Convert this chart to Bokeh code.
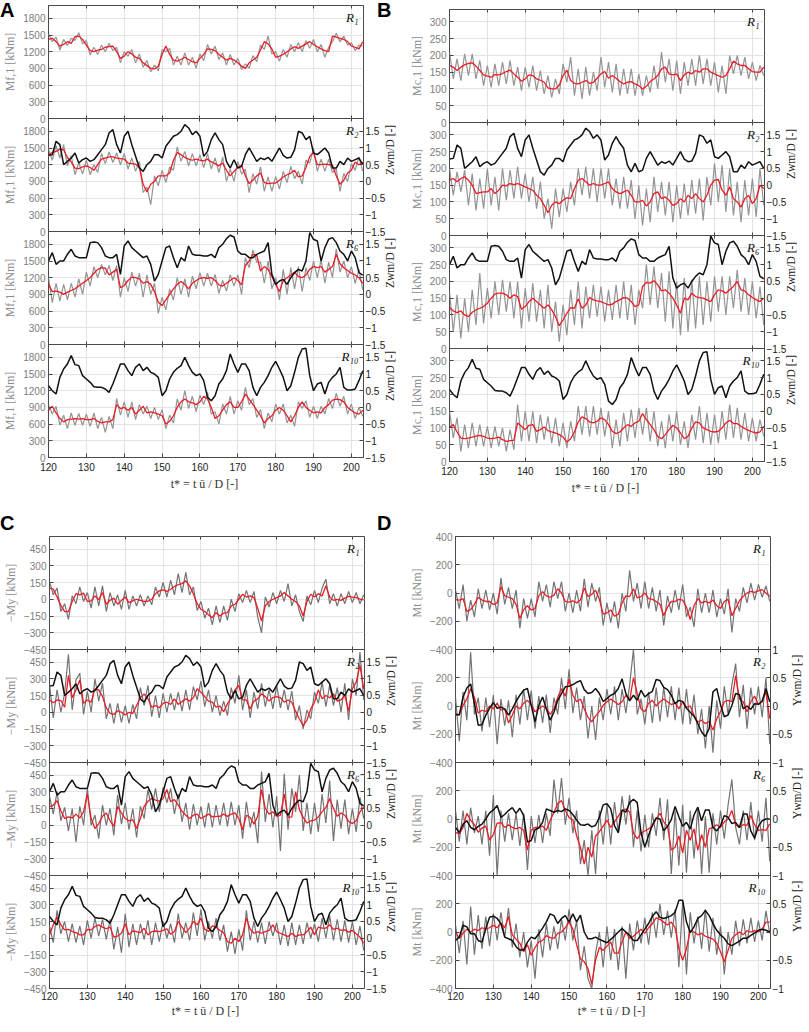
import math
from bokeh.plotting import figure
from bokeh.models import Range1d, LinearAxis, FixedTicker, Label, Div
from bokeh.layouts import column, row
from bokeh.embed import file_html
from bokeh.resources import INLINE

# time axis t* (samples at integer t*)
T = list(range(120, 204))
X_TICKS = [120, 130, 140, 150, 160, 170, 180, 190, 200]

# ---------------- Panel A : M_f,1 [kNm] ----------------
A_R1_RED = [
1420, 1440, 1380, 1300, 1330, 1380, 1350, 1470, 1480, 1420,
1320, 1220, 1200, 1230, 1240, 1280, 1290, 1300, 1200, 1080,
1120, 1200, 1160, 1100, 1080, 1000, 950, 900, 890, 940,
1150, 1300, 1150, 1050, 1030, 1060, 1100, 1060, 1020, 1000,
1080, 1150, 1250, 1240, 1220, 1150, 1100, 1050, 1080, 1050,
1000, 940, 900, 1000, 1050, 1100, 1230, 1380, 1340, 1250,
1100, 1120, 1150, 1200, 1250, 1290, 1260, 1300, 1340, 1380,
1330, 1290, 1250, 1220, 1200, 1480, 1460, 1440, 1420, 1380,
1300, 1280, 1250, 1380]
A_R1_GRAY = [
1520, 1380, 1460, 1230, 1420, 1310, 1440, 1400, 1540, 1340,
1400, 1140, 1280, 1150, 1320, 1200, 1350, 1220, 1280, 1000,
1200, 1120, 1240, 1000, 1160, 920, 1040, 840, 960, 860,
1240, 1200, 1260, 960, 1120, 960, 1180, 960, 1100, 900,
1160, 1040, 1330, 1160, 1300, 1060, 1180, 960, 1150, 960,
1080, 880, 980, 900, 1130, 1020, 1320, 1240, 1480, 1160,
1200, 1030, 1240, 1100, 1330, 1200, 1360, 1200, 1400, 1260,
1420, 1200, 1330, 1100, 1280, 1380, 1530, 1380, 1480, 1320,
1360, 1220, 1320, 1300]
A_R2_RED = [
1380, 1420, 1440, 1480, 1470, 1330, 1250, 1140, 1130, 1160,
1180, 1150, 1100, 1200, 1300, 1320, 1340, 1340, 1320, 1310,
1300, 1230, 1220, 1210, 1150, 850, 710, 850, 900, 1000,
1000, 1000, 1050, 1280, 1420, 1380, 1330, 1300, 1280, 1300,
1280, 1270, 1300, 1250, 1220, 1180, 1230, 1100, 1000, 1080,
1150, 1190, 1000, 860, 920, 1000, 1050, 880, 860, 870,
870, 920, 980, 1020, 1050, 1100, 980, 1000, 1150, 1350,
1420, 1200, 1200, 1210, 1200, 1190, 1000, 850, 920, 1050,
1100, 1250, 1200, 1250]
A_R2_GRAY = [
1480, 1280, 1540, 1320, 1560, 1180, 1360, 1020, 1240, 1030,
1280, 1020, 1200, 1060, 1400, 1220, 1430, 1240, 1410, 1200,
1400, 1120, 1320, 1080, 1260, 700, 800, 480, 1000, 820,
1100, 880, 1160, 1100, 1520, 1260, 1440, 1180, 1400, 1180,
1380, 1150, 1400, 1120, 1320, 1060, 1340, 900, 1120, 900,
1260, 1030, 1120, 700, 1040, 850, 1160, 720, 980, 720,
990, 760, 1080, 880, 1170, 950, 1080, 850, 1280, 1230,
1500, 1080, 1300, 1080, 1300, 1060, 1120, 720, 1040, 900,
1220, 1100, 1340, 1080]
A_R6_RED = [
1080, 950, 960, 940, 900, 940, 970, 1000, 1050, 1100,
1150, 1200, 1280, 1350, 1380, 1370, 1250, 1300, 1350, 1020,
1060, 1150, 1210, 1200, 1180, 1100, 1130, 1080, 950, 760,
700, 800, 900, 1000, 1080, 1130, 1080, 1000, 1100, 1150,
1190, 1200, 1190, 1200, 1150, 1070, 1050, 1100, 1150, 1200,
1150, 1070, 1420, 1500, 1620, 1600, 1320, 1400, 1350, 1220,
1080, 950, 1150, 1200, 1250, 1300, 1220, 1200, 1250, 1350,
1400, 1380, 1400, 1300, 1350, 1400, 1620, 1450, 1380, 1330,
1280, 1250, 1200, 1100]
A_R6_GRAY = [
1200, 750, 1100, 780, 1080, 800, 1100, 850, 1180, 900,
1300, 1050, 1400, 1200, 1440, 1250, 1420, 1150, 1420, 850,
1200, 950, 1300, 1050, 1280, 850, 1250, 900, 1100, 560,
850, 620, 1000, 800, 1200, 900, 1180, 850, 1230, 1000,
1290, 1050, 1280, 1050, 1260, 920, 1150, 960, 1250, 1050,
1250, 900, 1560, 1380, 1700, 1480, 1480, 1100, 1500, 1000,
1200, 800, 1350, 900, 1380, 1000, 1400, 950, 1380, 1150,
1500, 1200, 1520, 1100, 1480, 1200, 1720, 1300, 1500, 1200,
1400, 1100, 1350, 980]
A_R10_RED = [
850, 920, 800, 700, 640, 680, 690, 700, 690, 700,
680, 680, 700, 650, 620, 640, 640, 680, 950, 880,
900, 850, 900, 780, 850, 920, 800, 820, 800, 780,
750, 600, 650, 750, 900, 1000, 1050, 1000, 980, 950,
1000, 1100, 1050, 900, 700, 750, 850, 950, 1000, 900,
900, 1000, 1140, 1050, 950, 850, 750, 620, 700, 750,
850, 900, 850, 750, 640, 750, 900, 1000, 900, 850,
800, 820, 800, 900, 950, 1030, 1050, 1040, 1000, 900,
850, 800, 780, 850]
A_R10_GRAY = [
950, 780, 920, 580, 760, 520, 800, 580, 790, 580,
780, 560, 800, 520, 720, 450, 740, 520, 1060, 760,
1000, 720, 1000, 680, 950, 780, 920, 700, 900, 680,
860, 520, 760, 620, 1050, 850, 1200, 880, 1100, 820,
1120, 950, 1180, 780, 820, 600, 960, 780, 1100, 780,
1020, 850, 1260, 950, 1060, 720, 860, 520, 800, 640,
960, 780, 960, 620, 760, 560, 1000, 880, 1020, 720,
920, 700, 920, 780, 1060, 880, 1150, 920, 1100, 780,
960, 700, 900, 740]

# ---------------- Panel B : M_c,1 [kNm] ----------------
B_R1_RED = [
170, 165, 155, 165, 172, 176, 178, 168, 155, 142,
138, 135, 143, 142, 146, 152, 156, 145, 135, 123,
130, 142, 140, 130, 126, 120, 103, 100, 100, 112,
140, 156, 125, 117, 115, 120, 125, 117, 120, 132,
145, 152, 132, 140, 132, 122, 115, 120, 122, 115,
110, 100, 108, 122, 130, 140, 160, 165, 145, 142,
145, 125, 142, 150, 145, 155, 150, 160, 160, 150,
145, 140, 135, 140, 160, 183, 175, 170, 170, 160,
152, 150, 150, 165]
B_R1_GRAY = [
210, 130, 190, 125, 205, 140, 205, 130, 185, 110,
170, 105, 175, 110, 180, 115, 185, 110, 165, 95,
165, 105, 170, 95, 155, 85, 140, 75, 130, 85,
175, 120, 195, 80, 160, 70, 165, 80, 150, 95,
195, 105, 180, 90, 175, 80, 160, 85, 160, 80,
145, 80, 140, 90, 170, 100, 210, 120, 190, 95,
185, 85, 180, 110, 190, 110, 200, 115, 190, 110,
180, 90, 170, 85, 200, 145, 200, 140, 195, 130,
180, 125, 170, 140]
B_R2_RED = [
165, 170, 160, 170, 175, 165, 150, 125, 128, 130,
130, 140, 125, 135, 150, 148, 155, 152, 155, 150,
145, 140, 135, 120, 110, 90, 68, 90, 100, 95,
105, 113, 110, 140, 165, 170, 160, 150, 155, 150,
150, 155, 160, 140, 130, 125, 130, 135, 120, 100,
100, 105, 88, 100, 125, 130, 110, 115, 105, 90,
95, 110, 100, 120, 110, 125, 110, 100, 120, 150,
165, 167, 135, 120, 145, 110, 100, 85, 110, 120,
95, 110, 150, 140]
B_R2_GRAY = [
200, 120, 190, 130, 195, 90, 185, 75, 170, 80,
200, 90, 175, 75, 200, 105, 195, 110, 205, 110,
185, 100, 175, 80, 160, 50, 110, 20, 140, 55,
140, 70, 160, 90, 200, 120, 205, 110, 200, 100,
200, 110, 200, 90, 170, 80, 175, 80, 165, 50,
150, 30, 140, 40, 175, 70, 160, 60, 160, 40,
150, 50, 155, 60, 165, 65, 170, 45, 175, 90,
215, 100, 210, 70, 200, 60, 160, 40, 165, 60,
170, 55, 200, 90]
B_R6_RED = [
122, 112, 107, 112, 100, 95, 108, 115, 120, 125,
135, 150, 162, 165, 165, 160, 150, 160, 155, 117,
125, 140, 150, 140, 130, 120, 130, 115, 95, 68,
85, 105, 122, 120, 148, 120, 130, 152, 145, 142,
140, 135, 130, 132, 140, 145, 152, 150, 140, 125,
130, 185, 197, 195, 202, 190, 172, 175, 165, 150,
130, 105, 150, 145, 165, 155, 152, 150, 145, 140,
160, 175, 172, 165, 175, 185, 200, 175, 172, 160,
152, 145, 140, 150]
B_R6_GRAY = [
170, 50, 160, 30, 150, 50, 175, 70, 225, 75,
180, 90, 200, 100, 205, 110, 200, 90, 200, 60,
180, 80, 195, 80, 175, 60, 190, 50, 140, 20,
130, 40, 175, 70, 200, 60, 185, 90, 190, 95,
185, 80, 175, 85, 190, 90, 200, 85, 190, 70,
175, 120, 250, 130, 245, 120, 225, 80, 230, 60,
200, 40, 210, 50, 205, 60, 215, 70, 200, 80,
215, 110, 215, 100, 215, 120, 235, 110, 210, 100,
200, 90, 185, 70]
B_R10_RED = [
103, 110, 88, 70, 68, 70, 73, 76, 78, 75,
70, 68, 70, 73, 65, 60, 62, 63, 115, 105,
95, 108, 110, 90, 95, 103, 92, 88, 85, 80,
73, 58, 68, 88, 118, 133, 128, 118, 115, 120,
130, 125, 110, 90, 83, 88, 100, 110, 105, 115,
120, 143, 125, 110, 95, 75, 68, 80, 95, 108,
100, 85, 68, 75, 100, 118, 115, 100, 95, 90,
88, 90, 100, 115, 123, 113, 113, 105, 98, 93,
88, 85, 88, 105]
B_R10_GRAY = [
150, 70, 130, 30, 110, 40, 115, 45, 110, 45,
105, 40, 105, 45, 100, 30, 95, 35, 170, 60,
150, 60, 150, 55, 140, 65, 135, 55, 130, 45,
115, 40, 120, 60, 165, 80, 165, 75, 165, 80,
160, 75, 150, 40, 125, 45, 145, 60, 155, 70,
160, 80, 160, 60, 150, 45, 120, 40, 140, 60,
150, 50, 120, 40, 140, 65, 165, 55, 145, 50,
140, 55, 150, 65, 170, 70, 160, 65, 145, 60,
130, 60, 125, 75]

# ---------------- Panel C : -M_y [kNm] ----------------
C_R1_RED = [
100, 90, 20, -55, -110, -110, -20, 50, 40, 55,
-20, -15, 30, -5, 60, -45, -10, 10, -45, -10,
20, -30, -15, 0, -10, -20, -18, 0, 50, 75,
84, 70, 90, 115, 130, 140, 165, 120, 50, -40,
-90, -110, -140, -165, -120, -150, -125, -120, -60, -45,
0, 45, 20, 30, 15, -80, -195, -60, -20, 0,
15, 30, 60, 30, 0, -20, -60, -150, -20, 45,
20, 50, 30, 120, 20, -10, 0, -10, 10, 25,
20, 15, 0, -5]
C_R1_GRAY = [
160, 40, 100, -110, -40, -180, 30, -40, 110, -20,
60, -80, 110, -60, 120, -110, 60, -60, 40, -90,
80, -90, 30, -60, 40, -60, 30, -50, 110, 20,
150, 20, 170, 40, 230, 60, 240, 40, 110, -100,
-20, -170, -80, -230, -60, -210, -60, -190, 0, -110,
50, -30, 80, -30, 70, -160, -300, 20, -70, 60,
-40, 80, -20, 140, -60, 40, -110, -200, 30, -50,
80, -30, 100, 180, -40, 50, -60, 50, -40, 70,
-30, 60, -40, 40]
C_R2_RED = [
110, 85, 110, 105, 45, 330, 130, 200, 290, 80,
110, 90, 210, 200, 140, 40, -10, -20, 15, 0,
-25, 0, -10, 60, 130, 165, 120, 45, 60, 40,
80, 90, 70, 120, 70, 95, 120, 100, 130, 210,
180, 140, 100, 90, 45, 55, 5, 75, 130, 200,
240, 110, 110, 30, 100, 120, 165, 140, 100, 130,
140, 130, 90, 110, 90, 10, -60, -120, -70, 30,
90, 200, 120, 150, 130, 165, 100, 110, 150, 10,
210, 270, 420, 210]
C_R2_GRAY = [
250, -50, 200, 0, 170, 520, 20, 290, 350, -20,
190, 0, 300, 100, 260, -60, 80, -100, 80, -90,
60, -100, 70, -60, 220, 60, 240, -40, 150, -50,
170, 0, 170, 20, 180, 10, 200, 20, 230, 110,
280, 50, 200, 0, 150, -30, 100, -30, 220, 80,
330, 20, 200, -50, 180, 30, 260, 50, 200, 30,
240, 40, 200, 20, 190, -70, 60, -150, 20, -60,
180, 80, 270, 50, 240, 60, 220, 0, 260, -70,
300, 150, 540, 110]
C_R6_RED = [
165, 180, 220, 130, 60, 75, 65, 100, 65, 120,
280, 60, -30, 15, 80, 110, 40, -10, 170, 110,
60, 40, 50, -30, 60, 170, 215, 240, 225, 215,
240, 320, 210, 230, 180, 125, 90, 60, 90, 100,
60, 80, 100, 75, 80, 80, 100, 80, 100, 110,
60, -40, 90, 70, 10, 80, 320, 150, 100, 120,
80, 90, 280, 70, 75, 300, 140, 70, 20, 40,
45, 75, 120, 160, 240, 150, 80, 110, 90, 35,
15, 40, 120, 165]
C_R6_GRAY = [
260, 100, 300, 40, 160, -50, 150, -150, 170, 0,
330, 0, 90, -120, 180, 0, 150, -90, 270, 10,
200, -40, 150, -110, 170, 60, 320, 140, 330, 120,
340, 200, 330, 100, 280, 30, 200, -40, 190, 0,
170, -20, 200, -20, 180, 0, 200, -10, 210, 0,
180, -120, 210, -20, 120, -160, 480, 30, 280, -20,
260, -230, 460, -40, 330, 120, 450, -50, 200, -80,
200, -60, 280, 20, 400, -140, 230, -30, 230, -80,
150, -60, 250, 60]
C_R10_RED = [
30, 120, 190, 120, 75, 80, 60, 50, 30, 30,
80, 75, 105, 120, 100, 85, 100, 10, 20, 45,
130, 30, 65, 60, 50, 90, 30, 60, 65, 60,
70, 85, 35, 60, 150, 100, 50, 90, 150, 120,
180, 80, 60, 110, 100, 70, 50, -30, -45, 0,
-30, 30, 180, 80, 45, 60, 45, 60, 70, 120,
60, 45, 30, 15, 45, 15, 30, 30, 60, 100,
30, 100, 90, 90, 120, 80, 90, 70, 75, 55,
70, 40, 10, -45]
C_R10_GRAY = [
110, -40, 250, 40, 150, -30, 130, -40, 110, -60,
160, 0, 180, 20, 170, -10, 170, -100, 100, -130,
220, -80, 130, -60, 130, -10, 160, -60, 140, -30,
150, 0, 130, -40, 220, 0, 140, -20, 230, 20,
260, -20, 150, 0, 180, -20, 120, -120, 60, -140,
80, -110, 250, -20, 150, -40, 140, -50, 150, 20,
140, -60, 120, -70, 140, -60, 120, -50, 140, 0,
130, -30, 180, 0, 200, -20, 170, -30, 160, -40,
150, -60, 110, -110]

# ---------------- Panel D : M_t [kNm] ----------------
D_R1_RED = [
-47, -50, -40, -130, -118, -80, -30, -50, -60, -60,
-82, -70, 45, -20, -30, -40, -80, -180, -118, -90,
-120, -110, -20, 10, -20, -30, -15, 30, 0, -60,
-65, -55, -70, -50, 35, -25, -10, 20, -45, -150,
-141, -120, -165, -150, -70, -20, -25, 30, -35, -25,
0, -40, -45, -60, -80, -160, -100, -60, -60, -45,
-50, -100, -188, -90, -40, -70, -60, -70, -50, -90,
-110, -60, -45, -160, -110, -55, -24, 0, 12, 5,
15, 24, 0, -24]
D_R1_GRAY = [
20, -110, 60, -200, -50, -170, 30, -110, 20, -120,
0, -150, 105, -80, 40, -110, 20, -250, -40, -180,
-40, -170, 80, -60, 60, -100, 80, -40, 80, -130,
0, -140, 20, -130, 100, -100, 70, -60, 40, -230,
-70, -210, -60, -250, 0, -130, 160, -60, 70, -110,
80, -110, 40, -130, 20, -230, -20, -140, 20, -120,
60, -170, -100, -240, 30, -140, 0, -140, 20, -170,
-40, -150, 30, -280, -40, -130, 40, -70, 70, -50,
60, -30, 50, -60]
D_R2_RED = [
-66, -60, 5, 50, 122, 60, -50, -30, -40, 0,
-20, 20, -30, -20, -120, -66, 0, -20, 20, 40,
10, -40, -20, 0, -20, -60, -20, 60, 122, 70,
190, 75, 30, 50, -20, -80, -113, -70, -40, 5,
30, 50, 30, 10, 30, 75, 40, 200, 90, -20,
-40, 20, 40, 0, 30, 50, 30, 10, 20, -20,
30, -10, 0, -66, -113, -100, -125, -110, -170, -90,
-40, 30, 40, 30, 216, 50, 30, -40, 30, 70,
10, 40, 100, -90]
D_R2_GRAY = [
60, -250, 100, -100, 380, -60, 60, -180, 60, -150,
80, -270, 50, -140, 40, -220, 80, -130, 120, -100,
110, -160, 70, -120, 80, -190, 60, -60, 200, -20,
260, -50, 130, -100, 70, -230, 0, -240, 60, -100,
120, -60, 140, -100, 120, -50, 150, 400, -60, 50,
-130, 100, -120, 130, -110, 130, -80, 140, -100, 130,
-130, 120, -130, 80, -200, -20, -300, 0, -330, 40,
-160, 140, -60, 150, 300, -80, 150, -160, 130, -60,
140, -80, 200, -270]
D_R6_RED = [
-94, -105, -60, 40, -10, -40, -94, -65, -50, -150,
-110, -30, -25, -60, -40, -60, -70, -60, -80, -220,
-80, -60, -60, -50, -80, -10, 47, 110, 130, 60,
10, -5, -120, -200, -320, -200, -270, -120, -90, -50,
-10, -60, -20, 20, 60, 70, 50, -100, -140, -100,
-85, -70, -50, 0, 40, -20, -50, -220, -200, -120,
-240, -80, -150, -70, -220, -110, -200, -70, -60, -40,
-60, -20, 0, 60, -40, -60, -40, -45, 24, -40,
-80, -75, -80, -35]
D_R6_GRAY = [
60, -160, 60, -180, 80, -100, 20, -180, 60, -260,
170, -400, 60, -160, 40, -150, 40, -190, 40, -360,
20, -170, 30, -170, 40, -120, 280, 40, 290, -40,
150, -100, 60, -320, -150, -400, -80, -390, 60, -180,
100, -180, 120, -100, 160, -40, 170, -200, 60, -230,
30, -200, 40, -120, 150, -150, 140, -390, 60, -330,
100, -380, 60, -280, 80, -390, 20, -380, 40, -180,
60, -140, 100, 280, -60, -180, 60, -150, 120, -150,
60, -160, 150, -300]
D_R10_RED = [
0, -45, -10, 20, 0, 20, 10, 30, 20, 30,
47, 30, 60, 30, 110, -20, -50, -80, -140, -90,
-165, -110, -70, -60, -25, -40, -45, -10, 0, 30,
70, 20, -90, -190, -210, -260, -370, -200, -110, -130,
-100, -70, -150, -150, -70, 0, -45, -30, -5, 20,
-10, 30, 60, 100, 90, 70, 50, 70, 30, -118,
-200, -120, 10, 0, -20, -10, -30, -40, -50, -80,
-140, -212, -130, -45, -20, 0, -20, 10, 0, 10,
0, 20, 70, 70]
D_R10_GRAY = [
50, -150, 80, -230, 180, -160, 120, -120, 110, -100,
130, -60, 140, -40, 170, -110, 60, -180, 0, -250,
-60, -330, 20, -180, 60, -130, 40, -120, 90, -60,
160, -60, 80, -270, -100, -330, -400, -150, 0, -250,
40, -200, 20, -270, 40, -330, 60, -130, 80, -80,
100, -90, 140, -40, 200, -20, 150, -40, 160, -250,
220, -300, 140, -80, 110, -120, 160, -140, 100, -160,
40, -300, 0, -160, 80, -100, 90, -80, 100, -70,
80, -60, 150, -10]

# ---------------- wake meandering (right axes) ----------------
Z_R2 = [
0.78, 0.8, 1.2, 1.1, 0.5, 0.6, 0.7, 0.85, 0.55, 0.65,
0.7, 0.6, 0.65, 0.8, 0.95, 1.1, 1.45, 1.55, 1.1, 0.85,
1.35, 1.5, 1.1, 0.75, 0.4, 0.3, 0.5, 0.6, 0.8, 0.8,
0.7, 1.05, 1.2, 1.35, 1.4, 1.5, 1.7, 1.6, 1.4, 1.5,
1.35, 0.75, 0.9, 1.25, 1.45, 1.25, 1.1, 0.6, 0.4, 0.65,
0.4, 0.45, 0.8, 1.0, 0.8, 0.6, 0.7, 0.65, 0.72, 0.6,
0.8, 1.0, 0.78, 0.7, 0.72, 0.95, 1.5, 1.45, 1.25, 1.35,
0.85, 0.8, 0.9, 1.0, 0.85, 0.4, 0.4, 0.6, 0.5, 0.7,
0.6, 0.65, 0.7, 0.5]
Z_R6 = [
1.0, 1.25, 0.9, 1.0, 1.0, 1.2, 1.35, 1.15, 1.1, 1.1,
1.1, 1.55, 1.57, 1.55, 1.4, 1.15, 1.1, 1.1, 1.2, 0.6,
1.45, 1.6, 1.4, 1.3, 1.2, 1.1, 1.15, 0.9, 0.4, 0.6,
1.0, 1.4, 1.45, 1.1, 0.8, 1.1, 1.0, 1.45, 1.2, 1.17,
1.17, 1.15, 1.15, 1.2, 1.1, 1.4, 1.5, 1.67, 1.77, 1.72,
1.3, 1.2, 1.2, 1.1, 1.1, 1.2, 1.25, 1.3, 1.55, 0.6,
0.3, 0.4, 0.45, 0.3, 0.5, 0.65, 0.75, 0.7, 1.0, 1.85,
1.65, 1.6, 1.0, 1.4, 1.65, 1.7, 1.55, 1.3, 1.2, 1.0,
1.3, 1.1, 0.65, 0.58]
Z_R10 = [
0.65, 0.5, 0.4, 0.9, 1.15, 1.3, 1.55, 1.28, 1.25, 0.95,
0.85, 0.75, 0.62, 0.6, 0.6, 0.55, 0.45, 0.7, 1.0, 1.3,
1.3, 1.1, 0.95, 1.2, 1.3, 1.1, 1.2, 1.05, 1.0, 0.9,
0.35, 0.5, 0.85, 1.05, 1.17, 1.25, 1.5, 1.25, 1.05, 0.95,
1.0, 0.8, 0.3, 0.2, 0.35, 0.7, 0.85, 1.1, 1.6, 1.3,
1.05, 1.3, 1.3, 1.1, 0.6, 0.35, 0.6, 0.75, 0.95, 1.2,
1.38, 1.15, 0.9, 0.5, 0.65, 1.05, 1.5, 1.75, 1.77, 0.95,
0.5, 0.7, 0.75, 0.4, 0.75, 0.9, 1.0, 1.2, 0.6, 0.52,
0.52, 0.55, 0.8, 1.1]
Y_R2 = [
-0.14, -0.16, 0.16, 0.32, 0.39, 0.04, -0.34, -0.33, -0.16, -0.04,
0.06, -0.04, -0.02, -0.05, -0.16, -0.05, 0.08, 0.19, 0.28, 0.31,
0.01, -0.28, 0.01, 0.16, -0.05, -0.25, -0.11, 0.1, 0.22, 0.34,
0.35, 0.38, 0.42, 0.45, 0.29, 0.22, 0.24, 0.31, 0.22, 0.08,
0.13, 0.19, 0.22, 0.31, 0.48, 0.22, 0.09, 0.19, 0.1, 0.28,
0.16, 0.22, 0.26, 0.47, 0.45, 0.33, 0.29, 0.19, 0.04, 0.1,
0.08, -0.04, -0.11, -0.18, -0.31, -0.46, -0.54, -0.4, 0.25, 0.31,
0.02, -0.19, -0.16, 0.01, 0.22, 0.2, -0.05, 0.0, -0.06, 0.04,
0.03, 0.08, 0.31, 0.07]
Y_R6 = [
-0.15, -0.24, -0.09, -0.03, -0.15, -0.19, -0.13, -0.09, 0.0, 0.11,
0.16, 0.24, 0.03, 0.08, 0.15, 0.2, 0.1, 0.19, 0.06, -0.41,
-0.38, -0.19, -0.16, -0.06, 0.18, 0.15, 0.12, 0.15, 0.13, 0.18,
0.15, 0.08, -0.02, -0.1, -0.11, -0.09, -0.14, -0.11, 0.03, 0.25,
0.27, 0.18, -0.12, -0.24, 0.16, 0.12, 0.29, 0.35, 0.29, -0.24,
-0.5, -0.29, -0.11, 0.02, 0.0, -0.21, -0.13, -0.01, 0.22, 0.04,
-0.13, -0.06, -0.18, 0.07, 0.21, -0.03, 0.16, 0.16, -0.15, -0.21,
-0.12, 0.06, 0.03, -0.08, -0.06, -0.15, 0.09, 0.09, -0.21, -0.34,
-0.13, -0.03, 0.0, 0.0]
Y_R10 = [
-0.15, -0.09, 0.12, 0.09, -0.03, -0.03, -0.15, -0.18, 0.06, 0.26,
0.28, 0.24, 0.15, -0.09, -0.12, -0.15, -0.26, -0.32, -0.32, -0.18,
-0.09, -0.12, -0.03, 0.07, 0.18, 0.32, 0.29, 0.15, 0.24, 0.29,
0.18, 0.32, 0.18, 0.3, 0.0, -0.12, -0.12, -0.09, -0.13, -0.16,
-0.19, -0.13, -0.07, 0.0, 0.06, 0.0, -0.06, -0.15, -0.15, -0.05,
0.05, 0.15, 0.28, 0.36, 0.26, 0.24, 0.26, 0.29, 0.35, 0.56,
0.56, 0.18, -0.01, 0.09, 0.24, 0.29, 0.38, 0.29, 0.15, 0.03,
-0.05, -0.11, -0.21, -0.24, -0.2, -0.16, -0.11, -0.11, -0.06, -0.02,
0.03, 0.05, 0.03, 0.0]

# ---------------- axis settings per panel ----------------
A_TICKS = [0, 300, 600, 900, 1200, 1500, 1800]
B_TICKS = [0, 50, 100, 150, 200, 250, 300]
C_TICKS = [-450, -300, -150, 0, 150, 300, 450]
D_TICKS_TOP = [-400, -200, 0, 200, 400]
D_TICKS = [-400, -200, 0, 200]
Z_TICKS = [-1.5, -1, -0.5, 0, 0.5, 1, 1.5]
YD_TICKS_TOP = [-1, -0.5, 0, 0.5, 1]
YD_TICKS = [-1, -0.5, 0, 0.5]

FW, FH = 315, 113
EDGE = 6          # inner border so that edge tick labels are not cut
RED = "#ec1c24"
TICK_FONT = "Liberation Sans"
SERIF = "Liberation Serif"
X_LABEL = "t* = t ū / D  [-]"


def style_axis(ax, color):
    ax.major_label_text_font = TICK_FONT
    ax.major_label_text_font_size = "10px"
    ax.major_label_text_color = color
    ax.major_tick_in = 4
    ax.major_tick_out = 0
    ax.major_tick_line_color = "#444444"
    ax.minor_tick_line_color = None
    ax.axis_line_color = None
    ax.major_label_standoff = 3
    ax.axis_label_standoff = 3
    ax.axis_label_text_font = SERIF
    ax.axis_label_text_font_size = "12px"
    ax.axis_label_text_font_style = "normal"


def tick_only_axis():
    ax = LinearAxis(ticker=FixedTicker(ticks=X_TICKS))
    ax.major_label_overrides = {t: "" for t in X_TICKS}
    ax.major_label_text_font_size = "0px"
    ax.major_label_standoff = 0
    ax.major_tick_in = 3
    ax.major_tick_out = 0
    ax.major_tick_line_color = "#444444"
    ax.minor_tick_line_color = None
    ax.axis_line_color = None
    return ax


def make_sub(cfg, i, red, gray, black, rname):
    first = i == 0
    last = i == 3
    p = figure(frame_width=FW, frame_height=FH,
               x_range=Range1d(120, 203.2), y_range=Range1d(*cfg["ylim"]),
               output_backend="svg", toolbar_location=None,
               x_axis_location=None,
               min_border_left=cfg["bl"], min_border_right=cfg["br"],
               min_border_top=cfg["top"] if first else EDGE,
               min_border_bottom=cfg["bottom"] if last else EDGE)
    if not first:
        p.margin = (-2 * EDGE, 0, 0, 0)
    p.background_fill_color = None
    p.border_fill_color = None
    p.outline_line_color = "#4a4a4a"
    p.outline_line_width = 1
    p.xgrid.ticker = FixedTicker(ticks=X_TICKS)
    yt = cfg["yticks_first"] if first else cfg["yticks"]
    p.ygrid.ticker = FixedTicker(ticks=yt)
    p.xgrid.grid_line_color = "#e3e3e3"
    p.ygrid.grid_line_color = "#e3e3e3"

    p.yaxis.ticker = FixedTicker(ticks=yt)
    p.yaxis.axis_label = cfg["ylabel"]
    for ax in p.yaxis:
        style_axis(ax, "#7d7d7d")
        ax.axis_label_text_color = "#8c8c8c"

    # small inward ticks on the top edge of each sub-plot (and bottom edge of inner ones)
    p.add_layout(tick_only_axis(), "above")
    if last:
        xax = LinearAxis(ticker=FixedTicker(ticks=X_TICKS), axis_label=X_LABEL)
        style_axis(xax, "#222222")
        xax.axis_label_text_color = "#333333"
        xax.major_label_standoff = cfg["xls"]
        xax.axis_label_standoff = cfg["xas"]
        p.add_layout(xax, "below")
    else:
        p.add_layout(tick_only_axis(), "below")

    p.line(T, gray, color=cfg["gray"], line_width=1.2)
    p.line(T, red, color=RED, line_width=1.3)

    if black is not None:
        p.extra_y_ranges = {"w": Range1d(*cfg["rlim"])}
        rt = cfg["rticks_first"] if i == 1 else cfg["rticks"]
        rax = LinearAxis(y_range_name="w", ticker=FixedTicker(ticks=rt),
                         axis_label=cfg["rlabel"])
        style_axis(rax, "#1a1a1a")
        rax.major_label_standoff = 2
        rax.axis_label_standoff = 2
        rax.axis_label_text_font_size = "11.5px"
        rax.axis_label_text_color = "#1a1a1a"
        rax.axis_label_orientation = math.pi / 2
        p.add_layout(rax, "right")
        p.line(T, black, y_range_name="w", color="#111111", line_width=1.5)

    p.add_layout(Label(x=FW - 5, y=FH - 4, x_units="screen", y_units="screen",
                       text=rname, text_align="right", text_baseline="top",
                       text_font=SERIF, text_font_style="italic",
                       text_font_size="13px", text_color="#111111"))
    return p


def make_panel(cfg, reds, grays, blacks):
    names = ["R₁", "R₂", "R₆", "R₁₀"]
    return [make_sub(cfg, i, reds[i], grays[i], blacks[i], names[i]) for i in range(4)]


def letters(txt_left, txt_right, top, left_right, width, height):
    html = ('<div style="position:relative;width:%dpx;height:%dpx;'
            'font-family:\'Liberation Sans\',Arial,sans-serif;font-weight:bold;'
            'font-size:20px;line-height:20px;color:#000">'
            '<span style="position:absolute;left:0px;top:%dpx">%s</span>'
            '<span style="position:absolute;left:%dpx;top:%dpx">%s</span></div>'
            % (width, height, top, txt_left, left_right, top, txt_right))
    return Div(text=html, width=width, height=height, margin=(0, 0, -height, 0))


cfgA = dict(ylim=(0, 2030), yticks=A_TICKS, yticks_first=A_TICKS, ylabel="Mf,1 [kNm]",
            rlim=(-1.5, 1.883), rticks=Z_TICKS, rticks_first=Z_TICKS, rlabel="Zwm/D [-]",
            gray="#949494", bl=47, br=36, top=5, bottom=44, xls=5, xas=3)
cfgB = dict(ylim=(0, 337), yticks=B_TICKS, yticks_first=B_TICKS, ylabel="Mc,1 [kNm]",
            rlim=(-1.5, 1.87), rticks=Z_TICKS, rticks_first=Z_TICKS, rlabel="Zwm/D [-]",
            gray="#949494", bl=44, br=36, top=9, bottom=40, xls=5, xas=3)
cfgC = dict(ylim=(-450, 562), yticks=C_TICKS, yticks_first=C_TICKS, ylabel="−My [kNm]",
            rlim=(-1.5, 1.873), rticks=Z_TICKS, rticks_first=Z_TICKS, rlabel="Zwm/D [-]",
            gray="#737373", bl=47, br=36, top=35, bottom=27, xls=3, xas=1)
cfgD = dict(ylim=(-400, 400), yticks=D_TICKS, yticks_first=D_TICKS_TOP, ylabel="Mt [kNm]",
            rlim=(-1, 1), rticks=YD_TICKS, rticks_first=YD_TICKS_TOP, rlabel="Ywm/D [-]",
            gray="#737373", bl=44, br=36, top=35, bottom=27, xls=3, xas=1)

data = {
    "A": ([A_R1_RED, A_R2_RED, A_R6_RED, A_R10_RED], [A_R1_GRAY, A_R2_GRAY, A_R6_GRAY, A_R10_GRAY],
          [None, Z_R2, Z_R6, Z_R10]),
    "B": ([B_R1_RED, B_R2_RED, B_R6_RED, B_R10_RED], [B_R1_GRAY, B_R2_GRAY, B_R6_GRAY, B_R10_GRAY],
          [None, Z_R2, Z_R6, Z_R10]),
    "C": ([C_R1_RED, C_R2_RED, C_R6_RED, C_R10_RED], [C_R1_GRAY, C_R2_GRAY, C_R6_GRAY, C_R10_GRAY],
          [None, Z_R2, Z_R6, Z_R10]),
    "D": ([D_R1_RED, D_R2_RED, D_R6_RED, D_R10_RED], [D_R1_GRAY, D_R2_GRAY, D_R6_GRAY, D_R10_GRAY],
          [None, Y_R2, Y_R6, Y_R10]),
}
for k, (r, g, b) in data.items():
    for j, arr in enumerate(r + g + [x for x in b if x is not None]):
        if len(arr) != len(T):
            raise ValueError(f"panel {k} array {j} has length {len(arr)}")

figsA = make_panel(cfgA, *data["A"])
figsB = make_panel(cfgB, *data["B"])
figsC = make_panel(cfgC, *data["C"])
figsD = make_panel(cfgD, *data["D"])

divAB = letters("A", "B", 0, 377, 398, 24)
divCD = letters("C", "D", 12, 377, 398, 34)

layout = column(row(column(divAB, *figsA), column(*figsB)),
                row(column(divCD, *figsC), column(*figsD)))

with open("out.html", "w") as f:
    f.write(file_html(layout, INLINE))
